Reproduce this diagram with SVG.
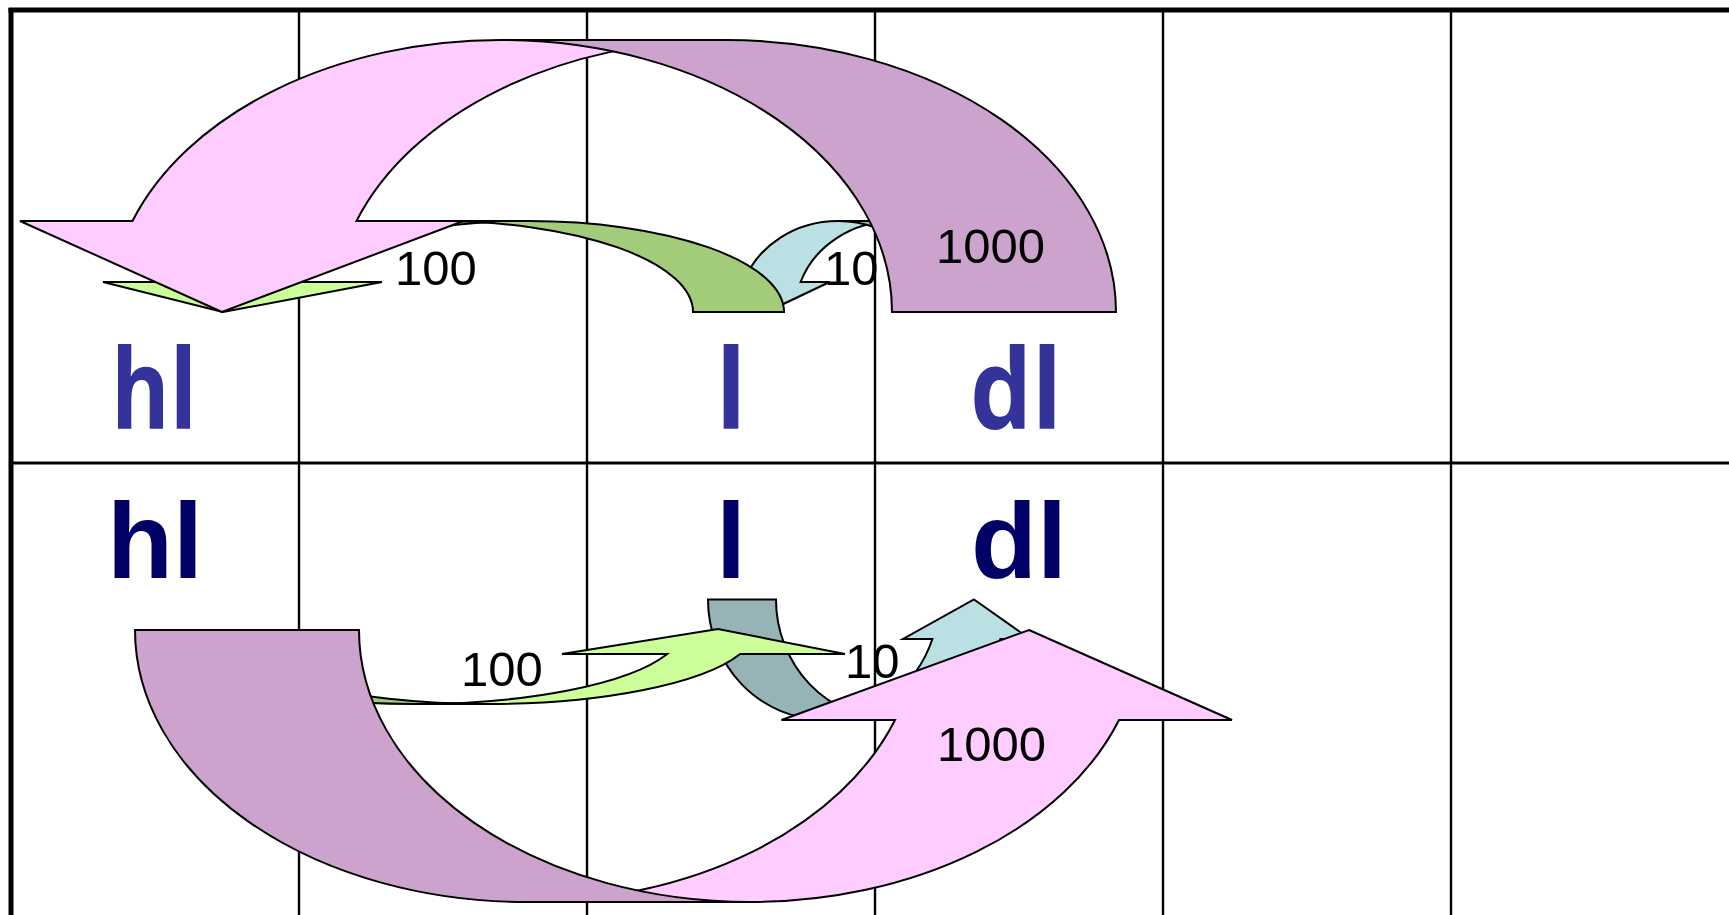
<svg xmlns="http://www.w3.org/2000/svg" width="1729" height="915" viewBox="0 0 1729 915">
<style>
.sh{stroke:#000;stroke-width:2}
.pink{fill:#FFCCFF}.pinkd{fill:#CCA3CC}
.green{fill:#CCFF99}.greend{fill:#A3CC7A}
.blue{fill:#BBE0E3}.blued{fill:#96B3B6}
.num{font-family:"Liberation Sans",Arial,sans-serif;font-size:49px;fill:#000}
.hand{font-family:"Open Sans","Noto Sans",sans-serif;font-weight:700;font-size:112px;fill:#333399;text-anchor:middle}
.bold{font-family:"Liberation Sans",Arial,sans-serif;font-weight:700;font-size:108px;fill:#000066;text-anchor:middle}
</style>
<rect width="1729" height="915" fill="#fff"/>
<g id="grid" stroke="#000" fill="none">
<line x1="11" y1="463" x2="1729" y2="463" stroke-width="2.8"/>
<line x1="299" y1="10" x2="299" y2="915" stroke-width="2.4"/>
<line x1="587" y1="10" x2="587" y2="915" stroke-width="2.4"/>
<line x1="875" y1="10" x2="875" y2="915" stroke-width="2.4"/>
<line x1="1163" y1="10" x2="1163" y2="915" stroke-width="2.4"/>
<line x1="1451" y1="10" x2="1451" y2="915" stroke-width="2.4"/>
<line x1="8.5" y1="10" x2="1729" y2="10" stroke-width="5"/>
<line x1="11" y1="8" x2="11" y2="915" stroke-width="5"/>
</g>
<g id="connectors">
<g id="arrow-top-10">
<path class="sh blue" d="M766.5,312 L714.6,282 L743.6,282 A100,91 0 0 1 838,221 L895,221 A100,91 0 0 0 800.6,282 L829.6,282 Z"/>
<path class="sh blued" d="M838,221 L895,221 A100,91 0 0 1 995,312 L938,312 A100,91 0 0 0 838,221 Z"/>
</g>
<g id="arrow-top-100">
<path class="sh green" d="M223,312 L103,282 L197.3,282 A255,91 0 0 1 438,221 L529,221 A255,91 0 0 0 288.3,282 L382,282 Z"/>
<path class="sh greend" d="M438,221 L529,221 A255,91 0 0 1 784,312 L693,312 A255,91 0 0 0 438,221 Z"/>
</g>
<g id="arrow-top-1000">
<path class="sh pink" d="M222,312 L20,221 L132.5,221 A391,272 0 0 1 501,40 L725,40 A391,272 0 0 0 356.5,221 L463.5,221 Z"/>
<path class="sh pinkd" d="M501,40 L725,40 A391,272 0 0 1 1116,312 L892,312 A391,272 0 0 0 501,40 Z"/>
</g>
<g id="arrow-bottom-10">
<path class="sh blue" d="M974,599.5 L1030,639 L1000.4,639 A115.4,120 0 0 1 891.4,719.5 L823.4,719.5 A115.4,120 0 0 0 932.4,639 L903,639 Z"/>
<path class="sh blued" d="M891.4,719.5 L823.4,719.5 A115.4,120 0 0 1 708,599.5 L776,599.5 A115.4,120 0 0 0 891.4,719.5 Z"/>
</g>
<g id="arrow-bottom-100">
<path class="sh green" d="M718,629 L845,654 L740.2,654 A268,75 0 0 1 487.5,704 L414.5,704 A268,75 0 0 0 667.2,654 L562,654 Z"/>
<path class="sh greend" d="M487.5,704 L414.5,704 A268,74 0 0 1 146.5,630 L219.5,630 A268,74 0 0 0 487.5,704 Z"/>
</g>
<g id="arrow-bottom-1000">
<path class="sh pink" d="M1029,630 L1232,720 L1119,720 A391,272 0 0 1 750,902 L526,902 A391,272 0 0 0 895,720 L781.5,720 Z"/>
<path class="sh pinkd" d="M750,902 L526,902 A391,272 0 0 1 135,630 L359,630 A391,272 0 0 0 750,902 Z"/>
</g>
</g>
<g id="labels">
<text class="num" x="395" y="285">100</text>
<text class="num" x="824" y="285">10</text>
<text class="num" x="936" y="263">1000</text>
<text class="num" x="461" y="686">100</text>
<text class="num" x="845" y="678">10</text>
<text class="num" x="937" y="761">1000</text>
</g>
<g id="node-hl-top"><text class="hand" x="154" y="429" textLength="86" lengthAdjust="spacingAndGlyphs">hl</text></g>
<g id="node-l-top"><text class="hand" x="731" y="429" textLength="30" lengthAdjust="spacingAndGlyphs">l</text></g>
<g id="node-dl-top"><text class="hand" x="1016" y="429" textLength="92" lengthAdjust="spacingAndGlyphs">dl</text></g>
<g id="node-hl-bottom"><text class="bold" x="155" y="578">hl</text></g>
<g id="node-l-bottom"><text class="bold" x="731" y="578">l</text></g>
<g id="node-dl-bottom"><text class="bold" x="1019" y="578">dl</text></g>
</svg>
